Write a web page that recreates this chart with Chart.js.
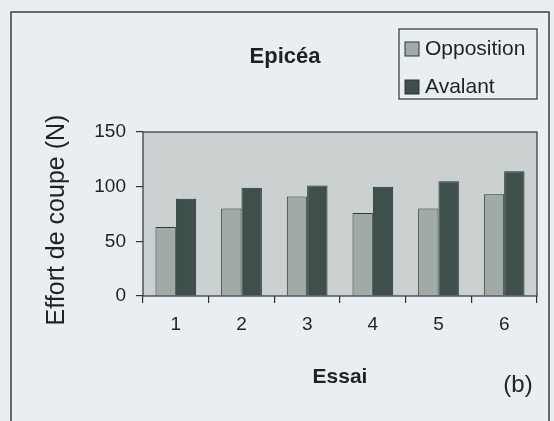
<!DOCTYPE html>
<html>
<head>
<meta charset="utf-8">
<script src="https://cdn.jsdelivr.net/npm/chart.js@4"></script>
<style>
  html, body { margin: 0; padding: 0; background: #e8eef2; }
  #wrap { width: 554px; height: 421px; }
</style>
</head>
<body>
<div id="wrap"><canvas id="effortChart" width="554" height="421"></canvas></div>
<script>
const essais = ['1', '2', '3', '4', '5', '6'];
const opposition = [63, 80, 91, 76, 80, 93];
const avalant = [89, 99, 101, 100, 105, 114];
const yTicks = [0, 50, 100, 150];

const FONT = "'Liberation Sans', Arial, sans-serif";

// fond, zone de tracé, cadre et textes
const decor = {
    id: 'decor',
    beforeDraw(chart) {
        const { ctx, chartArea: a } = chart;
        ctx.save();
        ctx.fillStyle = '#e8eef2';
        ctx.fillRect(0, 0, chart.width, chart.height);
        ctx.fillStyle = '#cbd0d1';
        ctx.fillRect(a.left, a.top, a.right - a.left, a.bottom - a.top);
        ctx.restore();
    },
    afterDraw(chart) {
        const { ctx, chartArea: a } = chart;
        ctx.save();
        // cadre extérieur
        ctx.strokeStyle = '#3a3f42';
        ctx.lineWidth = 1.5;
        ctx.beginPath();
        ctx.moveTo(11, 421);
        ctx.lineTo(11, 12);
        ctx.lineTo(549, 12);
        ctx.lineTo(549, 421);
        ctx.stroke();
        // bord de la zone de tracé
        ctx.lineWidth = 1.2;
        ctx.strokeStyle = '#2e3335';
        ctx.strokeRect(a.left, a.top, a.right - a.left, a.bottom - a.top);

        ctx.fillStyle = '#1e2224';
        ctx.textAlign = 'center';
        ctx.textBaseline = 'middle';
        ctx.font = 'bold 22px ' + FONT;
        ctx.fillText('Epicéa', 285, 57);
        ctx.font = 'bold 21px ' + FONT;
        ctx.fillText('Essai', 340, 377);
        ctx.font = '24px ' + FONT;
        ctx.fillText('(b)', 518, 385);

        ctx.save();
        ctx.translate(57, 220);
        ctx.rotate(-Math.PI / 2);
        ctx.font = '25px ' + FONT;
        ctx.fillText('Effort de coupe (N)', 0, 0);
        ctx.restore();

        // légende
        ctx.lineWidth = 1.2;
        ctx.strokeStyle = '#2e3335';
        ctx.strokeRect(399, 29, 138, 70);
        const items = chart.data.datasets;
        items.forEach((ds, i) => {
            const y = 49 + i * 38;
            ctx.fillStyle = ds.backgroundColor;
            ctx.fillRect(405, y - 7, 14, 14);
            ctx.strokeStyle = '#2e3335';
            ctx.lineWidth = 1;
            ctx.strokeRect(405, y - 7, 14, 14);
            ctx.fillStyle = '#1e2224';
            ctx.textAlign = 'left';
            ctx.font = '21px ' + FONT;
            ctx.fillText(ds.label, 425, y);
        });
        ctx.restore();
    }
};

new Chart(document.getElementById('effortChart'), {
    type: 'bar',
    data: {
        labels: essais,
        datasets: [
            {
                label: 'Opposition',
                data: opposition,
                backgroundColor: '#a0aba8',
                borderColor: '#2f3836',
                borderWidth: 1,
                categoryPercentage: 0.62,
                barPercentage: 1.0
            },
            {
                label: 'Avalant',
                data: avalant,
                backgroundColor: '#3f4f4b',
                borderColor: '#263130',
                borderWidth: 1,
                categoryPercentage: 0.62,
                barPercentage: 1.0
            }
        ]
    },
    options: {
        responsive: false,
        animation: false,
        layout: { padding: { top: 132, right: 17, left: 0, bottom: 0 } },
        plugins: {
            legend: { display: false },
            title: { display: false },
            tooltip: { enabled: false }
        },
        scales: {
            x: {
                afterFit: scale => { scale.height = 125; },
                grid: {
                    drawOnChartArea: false,
                    tickLength: 7,
                    color: '#2e3335',
                    lineWidth: 1.2
                },
                border: { display: false },
                ticks: {
                    padding: 10,
                    color: '#1e2224',
                    font: { family: FONT, size: 19 }
                }
            },
            y: {
                min: 0,
                max: 150,
                afterFit: scale => { scale.width = 143; },
                afterBuildTicks: scale => { scale.ticks = yTicks.map(v => ({ value: v })); },
                grid: {
                    drawOnChartArea: false,
                    tickLength: 7,
                    color: '#2e3335',
                    lineWidth: 1.2
                },
                border: { display: false },
                ticks: {
                    padding: 10,
                    color: '#1e2224',
                    font: { family: FONT, size: 19 }
                }
            }
        }
    },
    plugins: [decor]
});
</script>
</body>
</html>
